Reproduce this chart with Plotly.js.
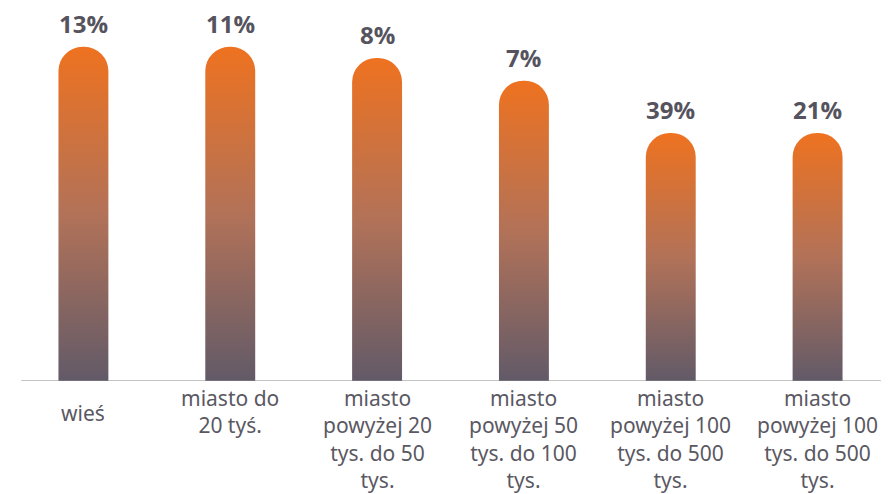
<!DOCTYPE html>
<html>
<head>
<meta charset="utf-8">
<script src="https://cdn.plot.ly/plotly-3.0.1.min.js"></script>
<style>html,body{margin:0;padding:0;background:#fff;}#chart{width:892px;height:494px;}</style>
</head>
<body>
<div id="chart"></div>
<script>
// Data
const categories = ["wieś", "miasto do 20 tyś.", "miasto powyżej 20 tys. do 50 tys.", "miasto powyżej 50 tys. do 100 tys.", "miasto powyżej 100 tys. do 500 tys.", "miasto powyżej 100 tys. do 500 tys. "];
const categoryLabels = ["wieś", "miasto do<br>20 tyś.", "miasto<br>powyżej 20<br>tys. do 50<br>tys.", "miasto<br>powyżej 50<br>tys. do 100<br>tys.", "miasto<br>powyżej 100<br>tys. do 500<br>tys.", "miasto<br>powyżej 100<br>tys. do 500<br>tys."];
const barHeights = [87.7, 87.7, 84.8, 78.8, 65.1, 65.1];
const valueLabels = ["13%", "11%", "8%", "7%", "39%", "21%"];

const textColor = "#55535e";
const annotations = [];
categories.forEach((c, i) => {
  annotations.push({
    x: c, y: barHeights[i], xref: "x", yref: "y",
    text: "<b>" + valueLabels[i] + "</b>", showarrow: false,
    yanchor: "bottom", yshift: 5,
    font: {family: "Open Sans, sans-serif", size: 24, color: textColor}
  });
  const lab = {
    x: c, y: 0, xref: "x", yref: "y",
    text: categoryLabels[i], showarrow: false,
    yanchor: "top", yshift: -1,
    font: {family: "Noto Sans, sans-serif", size: 21, color: "#5a5862"}
  };
  if (categoryLabels[i].indexOf("<br>") < 0) { lab.height = 58; lab.valign = "middle"; }
  annotations.push(lab);
});

const trace = {
  type: "bar", x: categories, y: barHeights,
  marker: {color: "#b27258", cornerradius: 25, line: {width: 0}},
  hoverinfo: "skip"
};

const layout = {
  width: 892, height: 494,
  margin: {l: 10, r: 1, t: 0, b: 113.3},
  paper_bgcolor: "#fff", plot_bgcolor: "#fff",
  bargap: 0.66, showlegend: false,
  xaxis: {showticklabels: false, showgrid: false, zeroline: false, showline: false, ticks: ""},
  yaxis: {range: [0, 100], visible: false, showgrid: false, zeroline: false},
  shapes: [{type: "line", xref: "paper", yref: "y", x0: 0.0127, x1: 0.9886, y0: 0, y1: 0,
            line: {color: "#8a8a8a", width: 1.2}}],
  annotations: annotations
};

function applyGradient(gd) {
  const svg = gd.querySelector("svg.main-svg");
  if (!svg) return;
  let defs = svg.querySelector("defs");
  if (!defs) { defs = document.createElementNS("http://www.w3.org/2000/svg", "defs"); svg.insertBefore(defs, svg.firstChild); }
  if (!defs.querySelector("#barGrad")) {
    const ns = "http://www.w3.org/2000/svg";
    const lg = document.createElementNS(ns, "linearGradient");
    lg.setAttribute("id", "barGrad");
    lg.setAttribute("x1", "0"); lg.setAttribute("y1", "0");
    lg.setAttribute("x2", "0"); lg.setAttribute("y2", "1");
    [["0", "#ee7220"], ["0.5", "#b27258"], ["1", "#625a68"]].forEach(s => {
      const st = document.createElementNS(ns, "stop");
      st.setAttribute("offset", s[0]); st.setAttribute("stop-color", s[1]);
      lg.appendChild(st);
    });
    defs.appendChild(lg);
  }
  gd.querySelectorAll(".barlayer .point path").forEach(p => { p.style.fill = "url(#barGrad)"; });
}

Plotly.newPlot("chart", [trace], layout, {displayModeBar: false, staticPlot: true}).then(gd => {
  applyGradient(gd);
  gd.on("plotly_afterplot", () => applyGradient(gd));
});
</script>
</body>
</html>
